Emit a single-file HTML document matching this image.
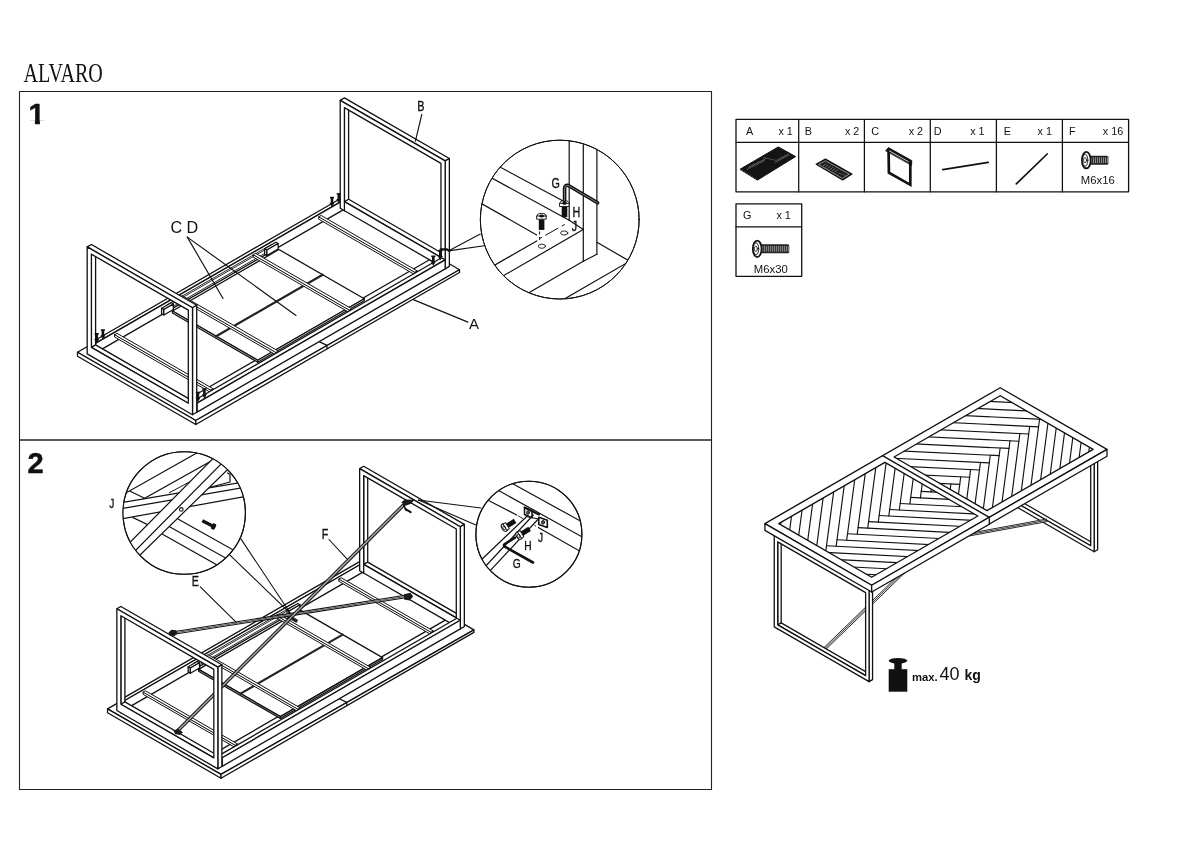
<!DOCTYPE html>
<html><head><meta charset="utf-8"><title>ALVARO</title>
<style>html,body{margin:0;padding:0;background:#fff}svg{display:block;will-change:transform}</style></head>
<body><svg width="1200" height="848" viewBox="0 0 1200 848" stroke-linejoin="round" stroke-linecap="round">
<g transform="translate(23.5,82) scale(0.745,1)"><text x="0" y="0" font-family="'Liberation Serif',serif" font-size="27" fill="#111">ALVARO</text></g>
<rect x="19.5" y="91.5" width="692" height="348.5" fill="none" stroke="#222" stroke-width="1.1"/>
<rect x="19.5" y="440" width="692" height="349.5" fill="none" stroke="#222" stroke-width="1.1"/>
<text x="28.4" y="123.9" font-family="'Liberation Sans',sans-serif" font-size="29" font-weight="bold" text-anchor="start" fill="#111" stroke="#111" stroke-width="0.5">1</text>
<rect x="28" y="120.6" width="6.9" height="5" fill="#fff"/><rect x="39.9" y="120.6" width="6" height="5" fill="#fff"/>
<polygon points="195.8,420.5 459.5,269.75 340.77,200.2 77.5,352.2" fill="#fff" stroke="#111" stroke-width="1.3" />
<polygon points="195.8,420.5 77.5,352.2 77.5,356.2 195.8,424.5" fill="#fff" stroke="#111" stroke-width="1.3" />
<polygon points="195.8,420.5 459.5,269.75 459.5,272.45 195.8,424.5" fill="#fff" stroke="#111" stroke-width="1.3" />
<polyline points="319.12,341.6 326.48,345.05 327.26,348.6" fill="none" stroke="#111" stroke-width="1.3" />
<polygon points="95.04,343.68 343.15,200.43 340.21,198.73 92.09,341.98" fill="#fff" stroke="#111" stroke-width="1.3" />
<polygon points="95.04,353.18 343.15,209.93 343.15,200.43 95.04,343.68" fill="#fff" stroke="#111" stroke-width="1.3" />
<line x1="166.8" y1="304.95" x2="270.72" y2="244.95" stroke="#111" stroke-width="0.9" />
<line x1="166.8" y1="306.56" x2="270.72" y2="246.56" stroke="#111" stroke-width="0.9" />
<line x1="168.35" y1="309.05" x2="272.27" y2="249.05" stroke="#111" stroke-width="0.9" />
<polygon points="163.84,309.55 173.37,304.05 171.12,302.75 161.59,308.25" fill="#fff" stroke="#111" stroke-width="1.3" />
<polygon points="163.84,315.05 161.59,313.75 161.59,308.25 163.84,309.55" fill="#fff" stroke="#111" stroke-width="1.3" />
<polygon points="163.84,315.05 173.37,309.55 173.37,304.05 163.84,309.55" fill="#fff" stroke="#111" stroke-width="1.3" />
<polygon points="266.9,250.05 278.16,243.55 275.91,242.25 264.65,248.75" fill="#fff" stroke="#111" stroke-width="1.3" />
<polygon points="266.9,255.55 264.65,254.25 264.65,248.75 266.9,250.05" fill="#fff" stroke="#111" stroke-width="1.3" />
<polygon points="266.9,255.55 278.16,249.05 278.16,243.55 266.9,250.05" fill="#fff" stroke="#111" stroke-width="1.3" />
<polygon points="344.41,210.65 348.61,208.22 348.61,105.17 344.41,107.6" fill="#fff" stroke="#111" stroke-width="1.3" />
<polygon points="440.97,257.4 445.17,254.98 348.61,199.22 344.41,201.65" fill="#fff" stroke="#111" stroke-width="1.3" />
<polygon points="445.17,160.93 449.37,158.5 344.41,97.9 340.21,100.33" fill="#fff" stroke="#111" stroke-width="1.3" />
<polygon points="445.17,268.83 449.37,266.4 449.37,158.5 445.17,160.93" fill="#fff" stroke="#111" stroke-width="1.3" />
<path d="M445.17 268.83 L340.21 208.23 L340.21 100.33 L445.17 160.93 Z M440.97 257.4 L344.41 201.65 L344.41 107.6 L440.97 163.35 Z" fill="#fff" stroke="#111" stroke-width="1.3" fill-rule="evenodd"/>
<line x1="344.41" y1="201.65" x2="344.41" y2="210.65" stroke="#111" stroke-width="1.3" />
<line x1="181.38" y1="403.02" x2="429.5" y2="259.77" stroke="#111" stroke-width="1.3" />
<polygon points="257.72,360.25 364.24,298.75 278.94,249.5 172.42,311" fill="#fff" stroke="#111" stroke-width="1.3" />
<polygon points="257.72,362.25 172.42,313 172.42,311 257.72,360.25" fill="#fff" stroke="#111" stroke-width="1.3" />
<polygon points="257.72,362.25 364.24,300.75 364.24,298.75 257.72,360.25" fill="#fff" stroke="#111" stroke-width="1.3" />
<line x1="216.15" y1="336.25" x2="322.67" y2="274.75" stroke="#222" stroke-width="2.2" />
<polygon points="210.78,390.25 213.21,388.85 116.99,333.3 114.57,334.7" fill="#fff" stroke="#111" stroke-width="1" />
<polygon points="210.78,392.55 114.57,337 114.57,334.7 210.78,390.25" fill="#fff" stroke="#111" stroke-width="1" />
<polygon points="210.78,392.55 213.21,391.15 213.21,388.85 210.78,390.25" fill="#fff" stroke="#111" stroke-width="1" />
<polygon points="275.99,352.6 278.42,351.2 182.2,295.65 179.78,297.05" fill="#fff" stroke="#111" stroke-width="1" />
<polygon points="275.99,354.9 179.78,299.35 179.78,297.05 275.99,352.6" fill="#fff" stroke="#111" stroke-width="1" />
<polygon points="275.99,354.9 278.42,353.5 278.42,351.2 275.99,352.6" fill="#fff" stroke="#111" stroke-width="1" />
<polygon points="349.35,310.25 351.77,308.85 255.56,253.3 253.13,254.7" fill="#fff" stroke="#111" stroke-width="1" />
<polygon points="349.35,312.55 253.13,257 253.13,254.7 349.35,310.25" fill="#fff" stroke="#111" stroke-width="1" />
<polygon points="349.35,312.55 351.77,311.15 351.77,308.85 349.35,310.25" fill="#fff" stroke="#111" stroke-width="1" />
<polygon points="414.9,272.4 417.33,271 321.11,215.45 318.69,216.85" fill="#fff" stroke="#111" stroke-width="1" />
<polygon points="414.9,274.7 318.69,219.15 318.69,216.85 414.9,272.4" fill="#fff" stroke="#111" stroke-width="1" />
<polygon points="414.9,274.7 417.33,273.3 417.33,271 414.9,272.4" fill="#fff" stroke="#111" stroke-width="1" />
<polygon points="197.06,403.07 445.17,259.83 441.53,257.73 193.42,400.98" fill="#fff" stroke="#111" stroke-width="1.3" />
<polygon points="197.06,412.07 445.17,268.83 445.17,259.83 197.06,403.07" fill="#fff" stroke="#111" stroke-width="1.3" />
<polygon points="91.4,356.32 95.6,353.9 95.6,251.75 91.4,254.17" fill="#fff" stroke="#111" stroke-width="1.3" />
<polygon points="188.31,403.27 192.51,400.85 95.6,344.9 91.4,347.32" fill="#fff" stroke="#111" stroke-width="1.3" />
<polygon points="192.51,307.7 196.71,305.27 91.4,244.48 87.2,246.9" fill="#fff" stroke="#111" stroke-width="1.3" />
<polygon points="192.51,414.7 196.71,412.27 196.71,305.27 192.51,307.7" fill="#fff" stroke="#111" stroke-width="1.3" />
<path d="M192.51 414.7 L87.2 353.9 L87.2 246.9 L192.51 307.7 Z M188.31 403.27 L91.4 347.32 L91.4 254.17 L188.31 310.12 Z" fill="#fff" stroke="#111" stroke-width="1.3" fill-rule="evenodd"/>
<path d="M95.4 333.5 h2.6 v5.5 h1.17 l-2.47 4.5 l-2.47 -4.5 h1.17 z" fill="#111"/>
<rect x="94.62" y="333" width="4.16" height="1.6" fill="#111"/>
<path d="M101.6 329.8 h2.6 v5.5 h1.17 l-2.47 4.5 l-2.47 -4.5 h1.17 z" fill="#111"/>
<rect x="100.82" y="329.3" width="4.16" height="1.6" fill="#111"/>
<path d="M196.6 392.2 h2.6 v5.5 h1.17 l-2.47 4.5 l-2.47 -4.5 h1.17 z" fill="#111"/>
<rect x="195.82" y="391.7" width="4.16" height="1.6" fill="#111"/>
<path d="M203.1 388.7 h2.6 v5.5 h1.17 l-2.47 4.5 l-2.47 -4.5 h1.17 z" fill="#111"/>
<rect x="202.32" y="388.2" width="4.16" height="1.6" fill="#111"/>
<path d="M330.7 197.3 h2.6 v5.5 h1.17 l-2.47 4.5 l-2.47 -4.5 h1.17 z" fill="#111"/>
<rect x="329.92" y="196.8" width="4.16" height="1.6" fill="#111"/>
<path d="M337.5 193.6 h2.6 v5.5 h1.17 l-2.47 4.5 l-2.47 -4.5 h1.17 z" fill="#111"/>
<rect x="336.72" y="193.1" width="4.16" height="1.6" fill="#111"/>
<path d="M432 256 h2.6 v5.5 h1.17 l-2.47 4.5 l-2.47 -4.5 h1.17 z" fill="#111"/>
<rect x="431.22" y="255.5" width="4.16" height="1.6" fill="#111"/>
<path d="M439 250.5 h2.6 v5.5 h1.17 l-2.47 4.5 l-2.47 -4.5 h1.17 z" fill="#111"/>
<rect x="438.22" y="250" width="4.16" height="1.6" fill="#111"/>
<text transform="translate(417.3,111.2) scale(0.77,1)" font-family="'Liberation Sans',sans-serif" font-size="14" font-weight="normal" text-anchor="start" fill="#111"  stroke="#111" stroke-width="0.35">B</text>
<line x1="421.8" y1="114.3" x2="415.4" y2="141.2" stroke="#111" stroke-width="1.15" />
<text x="469" y="328.5" font-family="'Liberation Sans',sans-serif" font-size="15" font-weight="normal" text-anchor="start" fill="#111" >A</text>
<line x1="413.3" y1="299.6" x2="467.9" y2="322.1" stroke="#111" stroke-width="1.15" />
<text x="170.4" y="233.3" font-family="'Liberation Sans',sans-serif" font-size="16.2" font-weight="normal" text-anchor="start" fill="#111" >C D</text>
<line x1="187.3" y1="237.1" x2="223" y2="298.5" stroke="#111" stroke-width="1.15" />
<line x1="187.3" y1="237.1" x2="296" y2="315.5" stroke="#111" stroke-width="1.15" />
<clipPath id="c1"><circle cx="559.75" cy="219.6" r="79.4"/></clipPath>
<line x1="480.3" y1="234" x2="450.2" y2="250" stroke="#111" stroke-width="1.1" />
<line x1="484.2" y1="245.7" x2="450.2" y2="250.6" stroke="#111" stroke-width="1.1" />
<circle cx="559.75" cy="219.6" r="79.4" fill="#fff" stroke="#111" stroke-width="1" />
<g clip-path="url(#c1)">
<line x1="490" y1="161.7" x2="569.2" y2="204.2" stroke="#111" stroke-width="1.2" />
<line x1="480" y1="171.6" x2="569.2" y2="220.2" stroke="#111" stroke-width="1.2" />
<line x1="569.2" y1="220.2" x2="583.3" y2="229.4" stroke="#111" stroke-width="1.2" />
<line x1="470" y1="197" x2="536.7" y2="235" stroke="#111" stroke-width="1.2" />
<line x1="466.7" y1="281.31" x2="536.7" y2="240.9" stroke="#111" stroke-width="1.2" />
<line x1="473.3" y1="293.11" x2="583.3" y2="229.6" stroke="#111" stroke-width="1.2" />
<line x1="483.3" y1="319.04" x2="583.3" y2="261.3" stroke="#111" stroke-width="1.2" />
<line x1="524.4" y1="322.04" x2="654.4" y2="246.98" stroke="#111" stroke-width="1.2" />
<line x1="596.9" y1="242.3" x2="656.9" y2="276.94" stroke="#111" stroke-width="1.2" />
<line x1="569.2" y1="130" x2="569.2" y2="220.2" stroke="#111" stroke-width="1.2" />
<line x1="583.3" y1="130" x2="583.3" y2="261.3" stroke="#111" stroke-width="1.2" />
<line x1="596.9" y1="130" x2="596.9" y2="254.3" stroke="#111" stroke-width="1.2" />
<line x1="583.3" y1="261.3" x2="596.9" y2="254.3" stroke="#111" stroke-width="1.2" />
<line x1="539.5" y1="238.6" x2="568" y2="222.6" stroke="#111" stroke-width="1" stroke-dasharray="3 3.5 15 4 3.5 50" stroke-linecap="butt"/>
<line x1="539.6" y1="231.5" x2="539.6" y2="241" stroke="#111" stroke-width="1" stroke-dasharray="3 2.5" stroke-linecap="butt"/>
<ellipse cx="541.9" cy="246.2" rx="3.6" ry="2.1" fill="#fff" stroke="#111" stroke-width="0.9" />
<ellipse cx="564.2" cy="233" rx="3.6" ry="2.1" fill="#fff" stroke="#111" stroke-width="0.9" />
<ellipse cx="541.6" cy="216" rx="4.6" ry="2.6" fill="#fff" stroke="#111" stroke-width="1" />
<rect x="537" y="216" width="9.2" height="3.2" fill="#fff" stroke="#111" stroke-width="0.9"/>
<ellipse cx="541.6" cy="216" rx="2.2" ry="1.2" fill="#111" stroke="#111" stroke-width="0.5" />
<rect x="538.8" y="219.4" width="5.6" height="10.5" fill="#111"/>
<ellipse cx="564.5" cy="203.3" rx="4.6" ry="2.6" fill="#fff" stroke="#111" stroke-width="1" />
<rect x="559.9" y="203.3" width="9.2" height="3.2" fill="#fff" stroke="#111" stroke-width="0.9"/>
<ellipse cx="564.5" cy="203.3" rx="2.2" ry="1.2" fill="#111" stroke="#111" stroke-width="0.5" />
<rect x="561.7" y="206.7" width="5.6" height="10.5" fill="#111"/>
<path d="M564.6 200.5 V188.5 Q564.6 185 568 185.3 L597.6 202.8" fill="none" stroke="#111" stroke-width="3.6" stroke-linecap="round"/>
<path d="M564.6 200.5 V188.5 Q564.6 185 568 185.3 L597.6 202.8" fill="none" stroke="#888" stroke-width="0.9" stroke-linecap="round"/>
<text transform="translate(551.5,188.4) scale(0.77,1)" font-family="'Liberation Sans',sans-serif" font-size="14" font-weight="normal" text-anchor="start" fill="#111"  stroke="#111" stroke-width="0.35">G</text>
<text transform="translate(572.4,217) scale(0.77,1)" font-family="'Liberation Sans',sans-serif" font-size="14" font-weight="normal" text-anchor="start" fill="#111"  stroke="#111" stroke-width="0.35">H</text>
<text transform="translate(571.7,231.3) scale(0.77,1)" font-family="'Liberation Sans',sans-serif" font-size="14" font-weight="normal" text-anchor="start" fill="#111"  stroke="#111" stroke-width="0.35">J</text>
</g>
<circle cx="559.75" cy="219.6" r="79.4" fill="none" stroke="#111" stroke-width="1" />
<path d="M440.6 257 V249.3 H446.5 L449.5 251" fill="none" stroke="#111" stroke-width="2.2"/>
<text x="27.6" y="472.7" font-family="'Liberation Sans',sans-serif" font-size="29" font-weight="bold" text-anchor="start" fill="#111" stroke="#111" stroke-width="0.5">2</text>
<polygon points="221,774.4 473.89,629.83 360.03,563.13 107.55,708.9" fill="#fff" stroke="#111" stroke-width="1.3" />
<polygon points="221,774.4 107.55,708.9 107.55,712.74 221,778.24" fill="#fff" stroke="#111" stroke-width="1.3" />
<polygon points="221,774.4 473.89,629.83 473.89,632.42 221,778.24" fill="#fff" stroke="#111" stroke-width="1.3" />
<polyline points="339.27,698.73 346.33,702.04 347.07,705.45" fill="none" stroke="#111" stroke-width="1.3" />
<polygon points="124.37,700.72 362.48,563.25 359.66,561.62 121.55,699.09" fill="#fff" stroke="#111" stroke-width="1.3" />
<polygon points="124.37,709.84 362.48,572.36 362.48,563.25 124.37,700.72" fill="#fff" stroke="#111" stroke-width="1.3" />
<line x1="193.19" y1="663.59" x2="292.85" y2="606.05" stroke="#111" stroke-width="0.9" />
<line x1="193.19" y1="665.13" x2="292.85" y2="607.59" stroke="#111" stroke-width="0.9" />
<line x1="194.67" y1="667.52" x2="294.33" y2="609.98" stroke="#111" stroke-width="0.9" />
<polygon points="190.35,668 199.49,662.72 197.33,661.48 188.19,666.75" fill="#fff" stroke="#111" stroke-width="1.3" />
<polygon points="190.35,673.27 188.19,672.03 188.19,666.75 190.35,668" fill="#fff" stroke="#111" stroke-width="1.3" />
<polygon points="190.35,673.27 199.49,668 199.49,662.72 190.35,668" fill="#fff" stroke="#111" stroke-width="1.3" />
<polygon points="289.19,610.94 299.98,604.7 297.82,603.46 287.03,609.69" fill="#fff" stroke="#111" stroke-width="1.3" />
<polygon points="289.19,616.21 287.03,614.97 287.03,609.69 289.19,610.94" fill="#fff" stroke="#111" stroke-width="1.3" />
<polygon points="289.19,616.21 299.98,609.98 299.98,604.7 289.19,610.94" fill="#fff" stroke="#111" stroke-width="1.3" />
<polygon points="363.68,573.06 367.71,570.73 367.71,473.25 363.68,475.58" fill="#fff" stroke="#111" stroke-width="1.3" />
<polygon points="456.29,617.89 460.31,615.57 367.71,562.1 363.68,564.43" fill="#fff" stroke="#111" stroke-width="1.3" />
<polygon points="460.31,526.71 464.34,524.39 363.68,466.27 359.66,468.6" fill="#fff" stroke="#111" stroke-width="1.3" />
<polygon points="460.31,628.85 464.34,626.52 464.34,524.39 460.31,526.71" fill="#fff" stroke="#111" stroke-width="1.3" />
<path d="M460.31 628.85 L359.66 570.73 L359.66 468.6 L460.31 526.71 Z M456.29 617.89 L363.68 564.43 L363.68 475.58 L456.29 529.04 Z" fill="#fff" stroke="#111" stroke-width="1.3" fill-rule="evenodd"/>
<line x1="363.68" y1="564.43" x2="363.68" y2="573.06" stroke="#111" stroke-width="1.3" />
<line x1="207.17" y1="757.64" x2="445.28" y2="620.17" stroke="#111" stroke-width="1.3" />
<polygon points="280.38,716.62 382.54,657.64 300.73,610.41 198.58,669.39" fill="#fff" stroke="#111" stroke-width="1.3" />
<polygon points="280.38,718.54 198.58,671.31 198.58,669.39 280.38,716.62" fill="#fff" stroke="#111" stroke-width="1.3" />
<polygon points="280.38,718.54 382.54,659.56 382.54,657.64 280.38,716.62" fill="#fff" stroke="#111" stroke-width="1.3" />
<line x1="240.52" y1="693.6" x2="342.67" y2="634.63" stroke="#222" stroke-width="2.2" />
<polygon points="235.37,745.39 237.69,744.05 145.42,690.78 143.1,692.12" fill="#fff" stroke="#111" stroke-width="1" />
<polygon points="235.37,747.6 143.1,694.32 143.1,692.12 235.37,745.39" fill="#fff" stroke="#111" stroke-width="1" />
<polygon points="235.37,747.6 237.69,746.25 237.69,744.05 235.37,745.39" fill="#fff" stroke="#111" stroke-width="1" />
<polygon points="297.91,709.28 300.23,707.94 207.96,654.67 205.64,656.01" fill="#fff" stroke="#111" stroke-width="1" />
<polygon points="297.91,711.49 205.64,658.22 205.64,656.01 297.91,709.28" fill="#fff" stroke="#111" stroke-width="1" />
<polygon points="297.91,711.49 300.23,710.15 300.23,707.94 297.91,709.28" fill="#fff" stroke="#111" stroke-width="1" />
<polygon points="368.25,668.67 370.58,667.33 278.31,614.06 275.98,615.4" fill="#fff" stroke="#111" stroke-width="1" />
<polygon points="368.25,670.88 275.98,617.6 275.98,615.4 368.25,668.67" fill="#fff" stroke="#111" stroke-width="1" />
<polygon points="368.25,670.88 370.58,669.53 370.58,667.33 368.25,668.67" fill="#fff" stroke="#111" stroke-width="1" />
<polygon points="431.12,632.37 433.45,631.03 341.18,577.76 338.85,579.1" fill="#fff" stroke="#111" stroke-width="1" />
<polygon points="431.12,634.58 338.85,581.31 338.85,579.1 431.12,632.37" fill="#fff" stroke="#111" stroke-width="1" />
<polygon points="431.12,634.58 433.45,633.24 433.45,631.03 431.12,632.37" fill="#fff" stroke="#111" stroke-width="1" />
<polygon points="222.2,757.69 460.31,620.22 456.83,618.2 218.72,755.68" fill="#fff" stroke="#111" stroke-width="1.3" />
<polygon points="222.2,766.32 460.31,628.85 460.31,620.22 222.2,757.69" fill="#fff" stroke="#111" stroke-width="1.3" />
<polygon points="170.69,634.73 407.29,597.53 406.91,595.07 170.31,632.27" fill="#fff" stroke="#111" stroke-width="1.05" />
<line x1="170.5" y1="633.5" x2="407.1" y2="596.3" stroke="#111" stroke-width="0.73" />
<polygon points="178.08,732.18 404.68,505.68 402.92,503.92 176.32,730.42" fill="#fff" stroke="#111" stroke-width="1.05" />
<line x1="177.2" y1="731.3" x2="403.8" y2="504.8" stroke="#111" stroke-width="0.73" />
<path d="M401.3 502.3 L404.8 499.5 L414.5 499.8 L411 503.8 L405.5 505.8 Z" fill="#1a1a1a"/>
<path d="M405.5 509 L410.6 512.2" stroke="#111" stroke-width="2" fill="none"/>
<path d="M403.6 505 L406.3 510.5" stroke="#111" stroke-width="1.6" fill="none"/>
<path d="M403.8 594.2 L410.5 592.8 L413.2 596.5 L409.5 600.5 L404 599.5 Z" fill="#1a1a1a"/>
<rect x="293.3" y="616.2" width="7" height="3.5" fill="#222" transform="rotate(30 292.3 614.2)"/>
<polygon points="120.88,712.86 124.91,710.53 124.91,613.43 120.88,615.76" fill="#fff" stroke="#111" stroke-width="1.3" />
<polygon points="213.82,757.88 217.84,755.56 124.91,701.9 120.88,704.23" fill="#fff" stroke="#111" stroke-width="1.3" />
<polygon points="217.84,667.09 221.87,664.76 120.88,606.46 116.85,608.78" fill="#fff" stroke="#111" stroke-width="1.3" />
<polygon points="217.84,768.84 221.87,766.51 221.87,664.76 217.84,667.09" fill="#fff" stroke="#111" stroke-width="1.3" />
<path d="M217.84 768.84 L116.85 710.53 L116.85 608.78 L217.84 667.09 Z M213.82 757.88 L120.88 704.23 L120.88 615.76 L213.82 669.41 Z" fill="#fff" stroke="#111" stroke-width="1.3" fill-rule="evenodd"/>
<path d="M168.5 632.5 L171.5 629.8 L176.3 630.3 L177 634.2 L173.5 636.5 L169.5 635.5 Z" fill="#1a1a1a"/>
<path d="M173.5 730.5 L178 728.8 L183 732.2 L180 735 L175 734 Z" fill="#1a1a1a"/>
<text transform="translate(191.8,586.3) scale(0.77,1)" font-family="'Liberation Sans',sans-serif" font-size="14" font-weight="normal" text-anchor="start" fill="#111"  stroke="#111" stroke-width="0.35">E</text>
<line x1="200.3" y1="586.8" x2="236.3" y2="622.3" stroke="#111" stroke-width="1.1" />
<text transform="translate(321.8,539) scale(0.77,1)" font-family="'Liberation Sans',sans-serif" font-size="14" font-weight="normal" text-anchor="start" fill="#111"  stroke="#111" stroke-width="0.35">F</text>
<line x1="329" y1="539.5" x2="347.4" y2="559.3" stroke="#111" stroke-width="1.1" />
<text transform="translate(109.3,507.9) scale(0.77,1)" font-family="'Liberation Sans',sans-serif" font-size="13" font-weight="normal" text-anchor="start" fill="#111"  stroke="#111" stroke-width="0.35">J</text>
<line x1="240.9" y1="538.9" x2="290.3" y2="613.3" stroke="#111" stroke-width="1.1" />
<line x1="229.7" y1="554.8" x2="290.3" y2="613.3" stroke="#111" stroke-width="1.1" />
<clipPath id="c2a"><circle cx="184.2" cy="513" r="61.2"/></clipPath>
<circle cx="184.2" cy="513" r="61.2" fill="#fff" stroke="#111" stroke-width="1.1" />
<g clip-path="url(#c2a)">
<line x1="106.02" y1="504.26" x2="214.18" y2="443.14" stroke="#111" stroke-width="1.2" />
<line x1="124.56" y1="509.52" x2="231.44" y2="449.68" stroke="#111" stroke-width="1.2" />
<line x1="130.2" y1="491.2" x2="144.6" y2="498.3" stroke="#111" stroke-width="1.2" />
<line x1="169.2" y1="492.8" x2="193.1" y2="480" stroke="#111" stroke-width="1" />
<line x1="178" y1="519" x2="259.15" y2="564.45" stroke="#111" stroke-width="1.2" />
<line x1="170" y1="527" x2="251.3" y2="572.3" stroke="#111" stroke-width="1.2" />
<line x1="162.1" y1="534.1" x2="240.85" y2="578.35" stroke="#111" stroke-width="1.2" />
<line x1="132.6" y1="517.4" x2="154.1" y2="527.8" stroke="#111" stroke-width="1.2" />
<polygon points="101.3,506.12 259.5,479.38 265.32,492.94 99.98,522.76" fill="#fff" stroke="#111" stroke-width="1.2" />
<line x1="99.86" y1="512.42" x2="262.54" y2="484.28" stroke="#111" stroke-width="1.2" />
<polygon points="107.92,564.62 235.28,435.98 252.25,445.45 115.45,579.05" fill="#fff" stroke="#111" stroke-width="1.2" />
<line x1="112.56" y1="573.58" x2="245.04" y2="439.82" stroke="#111" stroke-width="1.2" />
<circle cx="181.3" cy="509.4" r="1.8" fill="#fff" stroke="#111" stroke-width="1.1" />
<g transform="translate(209,524.2) rotate(27)"><rect x="-7.5" y="-1.6" width="11" height="3.2" fill="#111"/><rect x="3" y="-3" width="4.2" height="6" rx="1.5" fill="#111"/></g>
<polyline points="227.5,473 230,474.5 230,482 211,487" fill="none" stroke="#111" stroke-width="1.2" />
</g>
<circle cx="184.2" cy="513" r="61.2" fill="none" stroke="#111" stroke-width="1.1" />
<line x1="418.3" y1="500" x2="480.8" y2="508" stroke="#111" stroke-width="1.1" />
<line x1="418.3" y1="500" x2="475.8" y2="525" stroke="#111" stroke-width="1.1" />
<clipPath id="c2b"><circle cx="528.9" cy="534.2" r="53"/></clipPath>
<circle cx="528.9" cy="534.2" r="53" fill="#fff" stroke="#111" stroke-width="1.1" />
<g clip-path="url(#c2b)">
<line x1="495.5" y1="474.26" x2="599.5" y2="531.54" stroke="#111" stroke-width="1.2" />
<line x1="476.53" y1="478.2" x2="605.97" y2="550.2" stroke="#111" stroke-width="1.2" />
<line x1="475.45" y1="493.7" x2="516.7" y2="515" stroke="#111" stroke-width="1.2" />
<line x1="538.3" y1="527.5" x2="591.47" y2="557.79" stroke="#111" stroke-width="1.2" />
<line x1="518.5" y1="516" x2="536.5" y2="526.5" stroke="#111" stroke-width="0.9" stroke-dasharray="5 2.5 1.2 2.5"/>
<polygon points="470.28,570.3 526.7,516.5 538.3,519 476.55,585.3" fill="#fff" stroke="#111" stroke-width="1.2" />
<line x1="472.72" y1="580" x2="533.3" y2="515" stroke="#111" stroke-width="1.2" />
<path d="M524.5 507.5 l7.5 3.2 v7 l-7.5 -3.2z" fill="#fff" stroke="#111" stroke-width="1.5"/>
<path d="M524.5 507.5 L539 514.5" stroke="#111" stroke-width="2" fill="none"/>
<ellipse cx="528" cy="512.6" rx="1.5" ry="1.8" fill="#555" stroke="#111" stroke-width="0.8" />
<path d="M538.8 517.3 l8.5 3 v7.2 l-8.5 -3z" fill="#fff" stroke="#111" stroke-width="1.6"/>
<ellipse cx="543" cy="522.3" rx="1.6" ry="1.9" fill="#555" stroke="#111" stroke-width="0.8" />
<g transform="translate(504.5,527.5) rotate(-32)"><ellipse cx="0" cy="0" rx="2.6" ry="4.2" fill="#fff" stroke="#111" stroke-width="1.1"/><rect x="0.5" y="-3.6" width="3" height="7.2" fill="#fff" stroke="#111" stroke-width="0.9"/><ellipse cx="-0.3" cy="0" rx="1.2" ry="2" fill="none" stroke="#111" stroke-width="0.7"/><rect x="3.5" y="-2.4" width="9" height="4.8" fill="#111"/></g>
<g transform="translate(519,535.5) rotate(-32)"><ellipse cx="0" cy="0" rx="2.6" ry="4.2" fill="#fff" stroke="#111" stroke-width="1.1"/><rect x="0.5" y="-3.6" width="3" height="7.2" fill="#fff" stroke="#111" stroke-width="0.9"/><ellipse cx="-0.3" cy="0" rx="1.2" ry="2" fill="none" stroke="#111" stroke-width="0.7"/><rect x="3.5" y="-2.4" width="9" height="4.8" fill="#111"/></g>
<path d="M515 537.7 L504.8 544 Q503 545.3 504.8 546.6 L533 562.5" fill="none" stroke="#111" stroke-width="2.6" stroke-linecap="round"/>
<text transform="translate(538.1,542) scale(0.77,1)" font-family="'Liberation Sans',sans-serif" font-size="13.3" font-weight="normal" text-anchor="start" fill="#111"  stroke="#111" stroke-width="0.35">J</text>
<text transform="translate(524.2,549.8) scale(0.77,1)" font-family="'Liberation Sans',sans-serif" font-size="13.3" font-weight="normal" text-anchor="start" fill="#111"  stroke="#111" stroke-width="0.35">H</text>
<text transform="translate(512.8,568.4) scale(0.77,1)" font-family="'Liberation Sans',sans-serif" font-size="13.3" font-weight="normal" text-anchor="start" fill="#111"  stroke="#111" stroke-width="0.35">G</text>
</g>
<circle cx="528.9" cy="534.2" r="53" fill="none" stroke="#111" stroke-width="1.1" />
<rect x="736" y="119.3" width="392.6" height="72.5" fill="#fff" stroke="#111" stroke-width="1.3"/>
<line x1="736" y1="142.3" x2="1128.6" y2="142.3" stroke="#111" stroke-width="1.25" />
<line x1="798.7" y1="119.3" x2="798.7" y2="191.8" stroke="#111" stroke-width="1.25" />
<line x1="864.4" y1="119.3" x2="864.4" y2="191.8" stroke="#111" stroke-width="1.25" />
<line x1="930.3" y1="119.3" x2="930.3" y2="191.8" stroke="#111" stroke-width="1.25" />
<line x1="996.4" y1="119.3" x2="996.4" y2="191.8" stroke="#111" stroke-width="1.25" />
<line x1="1062.4" y1="119.3" x2="1062.4" y2="191.8" stroke="#111" stroke-width="1.25" />
<text x="746" y="135.1" font-family="'Liberation Sans',sans-serif" font-size="10.8" font-weight="normal" text-anchor="start" fill="#111" >A</text>
<text x="792.8" y="135.1" font-family="'Liberation Sans',sans-serif" font-size="10.8" font-weight="normal" text-anchor="end" fill="#111" >x 1</text>
<text x="804.8" y="135.1" font-family="'Liberation Sans',sans-serif" font-size="10.8" font-weight="normal" text-anchor="start" fill="#111" >B</text>
<text x="859.3" y="135.1" font-family="'Liberation Sans',sans-serif" font-size="10.8" font-weight="normal" text-anchor="end" fill="#111" >x 2</text>
<text x="871.2" y="135.1" font-family="'Liberation Sans',sans-serif" font-size="10.8" font-weight="normal" text-anchor="start" fill="#111" >C</text>
<text x="923.1" y="135.1" font-family="'Liberation Sans',sans-serif" font-size="10.8" font-weight="normal" text-anchor="end" fill="#111" >x 2</text>
<text x="933.8" y="135.1" font-family="'Liberation Sans',sans-serif" font-size="10.8" font-weight="normal" text-anchor="start" fill="#111" >D</text>
<text x="984.6" y="135.1" font-family="'Liberation Sans',sans-serif" font-size="10.8" font-weight="normal" text-anchor="end" fill="#111" >x 1</text>
<text x="1003.8" y="135.1" font-family="'Liberation Sans',sans-serif" font-size="10.8" font-weight="normal" text-anchor="start" fill="#111" >E</text>
<text x="1052" y="135.1" font-family="'Liberation Sans',sans-serif" font-size="10.8" font-weight="normal" text-anchor="end" fill="#111" >x 1</text>
<text x="1069.1" y="135.1" font-family="'Liberation Sans',sans-serif" font-size="10.8" font-weight="normal" text-anchor="start" fill="#111" >F</text>
<text x="1123.2" y="135.1" font-family="'Liberation Sans',sans-serif" font-size="10.8" font-weight="normal" text-anchor="end" fill="#111" >x 16</text>
<polygon points="740.3,169.1 778.3,146.9 795.6,156.6 757.7,179.9" fill="#141414" stroke="#111" stroke-width="1" />
<clipPath id="cpA"><polygon points="742.5,169.1 778.3,148.5 793,156.6 757.7,178"/></clipPath>
<g clip-path="url(#cpA)">
<line x1="747.5" y1="169.5" x2="750.1" y2="165.9" stroke="#8a8a8a" stroke-width="0.75" />
<line x1="750.05" y1="168.25" x2="752.65" y2="164.65" stroke="#8a8a8a" stroke-width="0.75" />
<line x1="752.6" y1="167" x2="755.2" y2="163.4" stroke="#8a8a8a" stroke-width="0.75" />
<line x1="755.15" y1="165.75" x2="757.75" y2="162.15" stroke="#8a8a8a" stroke-width="0.75" />
<line x1="757.7" y1="164.5" x2="760.3" y2="160.9" stroke="#8a8a8a" stroke-width="0.75" />
<line x1="760.25" y1="163.25" x2="762.85" y2="159.65" stroke="#8a8a8a" stroke-width="0.75" />
<line x1="762.8" y1="162" x2="765.4" y2="158.4" stroke="#8a8a8a" stroke-width="0.75" />
<line x1="775.5" y1="162.8" x2="778.1" y2="159" stroke="#777" stroke-width="0.75" />
<line x1="777.8" y1="161.55" x2="780.4" y2="157.75" stroke="#777" stroke-width="0.75" />
<line x1="780.1" y1="160.3" x2="782.7" y2="156.5" stroke="#777" stroke-width="0.75" />
<line x1="782.4" y1="159.05" x2="785" y2="155.25" stroke="#777" stroke-width="0.75" />
<line x1="784.7" y1="157.8" x2="787.3" y2="154" stroke="#777" stroke-width="0.75" />
<line x1="787" y1="156.55" x2="789.6" y2="152.75" stroke="#777" stroke-width="0.75" />
<line x1="789.3" y1="155.3" x2="791.9" y2="151.5" stroke="#777" stroke-width="0.75" />
<line x1="763.5" y1="157.5" x2="776" y2="160.5" stroke="#666" stroke-width="0.7" />
</g>
<polygon points="816.2,164.2 825.4,159.1 851.9,174 842.7,179.9" fill="#1c1c1c" stroke="#111" stroke-width="1.3" />
<polygon points="818.8,164.3 825.4,160.8 849.2,174.1 842.8,178.2" fill="none" stroke="#ddd" stroke-width="0.6" />
<line x1="823.2" y1="165.9" x2="825.8" y2="163.7" stroke="#aaa" stroke-width="0.65" />
<line x1="825.5" y1="167.15" x2="828.1" y2="164.95" stroke="#aaa" stroke-width="0.65" />
<line x1="827.8" y1="168.4" x2="830.4" y2="166.2" stroke="#aaa" stroke-width="0.65" />
<line x1="830.1" y1="169.65" x2="832.7" y2="167.45" stroke="#aaa" stroke-width="0.65" />
<line x1="832.4" y1="170.9" x2="835" y2="168.7" stroke="#aaa" stroke-width="0.65" />
<line x1="834.7" y1="172.15" x2="837.3" y2="169.95" stroke="#aaa" stroke-width="0.65" />
<line x1="838" y1="173" x2="846" y2="175.5" stroke="#777" stroke-width="0.6" />
<path d="M888.6 151.5 L888.9 172.6 L910.3 184.8 L910.3 162.5" fill="none" stroke="#111" stroke-width="2.7" stroke-linejoin="miter"/>
<path d="M885.8 150.6 L888.4 147.5 L911.8 160.6 L911.6 165 Z" fill="#111" stroke="#111" stroke-width="0.8"/>
<line x1="889.5" y1="151" x2="908.3" y2="161.6" stroke="#fff" stroke-width="0.8" />
<line x1="942.8" y1="169.7" x2="988.2" y2="162.3" stroke="#111" stroke-width="1.7" />
<line x1="1016.3" y1="183.8" x2="1047.2" y2="154" stroke="#111" stroke-width="1.7" />
<rect x="1089.4" y="155.7" width="19" height="9" rx="1.5" fill="#222"/>
<line x1="1091.4" y1="157.7" x2="1091.4" y2="162.7" stroke="#ccc" stroke-width="0.7" />
<line x1="1093.4" y1="157.7" x2="1093.4" y2="162.7" stroke="#ccc" stroke-width="0.7" />
<line x1="1095.4" y1="157.7" x2="1095.4" y2="162.7" stroke="#ccc" stroke-width="0.7" />
<line x1="1097.4" y1="157.7" x2="1097.4" y2="162.7" stroke="#ccc" stroke-width="0.7" />
<line x1="1099.4" y1="157.7" x2="1099.4" y2="162.7" stroke="#ccc" stroke-width="0.7" />
<line x1="1101.4" y1="157.7" x2="1101.4" y2="162.7" stroke="#ccc" stroke-width="0.7" />
<line x1="1103.4" y1="157.7" x2="1103.4" y2="162.7" stroke="#ccc" stroke-width="0.7" />
<line x1="1105.4" y1="157.7" x2="1105.4" y2="162.7" stroke="#ccc" stroke-width="0.7" />
<line x1="1107.4" y1="157.7" x2="1107.4" y2="162.7" stroke="#ccc" stroke-width="0.7" />
<ellipse cx="1086.3" cy="160.2" rx="4.4" ry="8.25" fill="#fff" stroke="#111" stroke-width="1.8" />
<ellipse cx="1085.2" cy="160.2" rx="2.6" ry="6.05" fill="#fff" stroke="#111" stroke-width="0.9" />
<ellipse cx="1085" cy="160.2" rx="1.5" ry="2.6" fill="#fff" stroke="#111" stroke-width="0.8" />
<text x="1097.8" y="184" font-family="'Liberation Sans',sans-serif" font-size="11.3" font-weight="normal" text-anchor="middle" fill="#111" >M6x16</text>
<rect x="736" y="203.8" width="65.7" height="72.5" fill="#fff" stroke="#111" stroke-width="1.3"/>
<line x1="736" y1="226.9" x2="801.7" y2="226.9" stroke="#111" stroke-width="1.25" />
<text x="743" y="219.2" font-family="'Liberation Sans',sans-serif" font-size="10.8" font-weight="normal" text-anchor="start" fill="#111" >G</text>
<text x="790.8" y="219.2" font-family="'Liberation Sans',sans-serif" font-size="10.8" font-weight="normal" text-anchor="end" fill="#111" >x 1</text>
<rect x="760.3" y="244.3" width="29" height="9" rx="1.5" fill="#222"/>
<line x1="762.3" y1="246.3" x2="762.3" y2="251.3" stroke="#ccc" stroke-width="0.7" />
<line x1="764.3" y1="246.3" x2="764.3" y2="251.3" stroke="#ccc" stroke-width="0.7" />
<line x1="766.3" y1="246.3" x2="766.3" y2="251.3" stroke="#ccc" stroke-width="0.7" />
<line x1="768.3" y1="246.3" x2="768.3" y2="251.3" stroke="#ccc" stroke-width="0.7" />
<line x1="770.3" y1="246.3" x2="770.3" y2="251.3" stroke="#ccc" stroke-width="0.7" />
<line x1="772.3" y1="246.3" x2="772.3" y2="251.3" stroke="#ccc" stroke-width="0.7" />
<line x1="774.3" y1="246.3" x2="774.3" y2="251.3" stroke="#ccc" stroke-width="0.7" />
<line x1="776.3" y1="246.3" x2="776.3" y2="251.3" stroke="#ccc" stroke-width="0.7" />
<line x1="778.3" y1="246.3" x2="778.3" y2="251.3" stroke="#ccc" stroke-width="0.7" />
<line x1="780.3" y1="246.3" x2="780.3" y2="251.3" stroke="#ccc" stroke-width="0.7" />
<line x1="782.3" y1="246.3" x2="782.3" y2="251.3" stroke="#ccc" stroke-width="0.7" />
<line x1="784.3" y1="246.3" x2="784.3" y2="251.3" stroke="#ccc" stroke-width="0.7" />
<line x1="786.3" y1="246.3" x2="786.3" y2="251.3" stroke="#ccc" stroke-width="0.7" />
<line x1="788.3" y1="246.3" x2="788.3" y2="251.3" stroke="#ccc" stroke-width="0.7" />
<ellipse cx="757.2" cy="248.8" rx="4.4" ry="8.25" fill="#fff" stroke="#111" stroke-width="1.8" />
<ellipse cx="756.1" cy="248.8" rx="2.6" ry="6.05" fill="#fff" stroke="#111" stroke-width="0.9" />
<ellipse cx="755.9" cy="248.8" rx="1.5" ry="2.6" fill="#fff" stroke="#111" stroke-width="0.8" />
<text x="770.8" y="273.2" font-family="'Liberation Sans',sans-serif" font-size="11.3" font-weight="normal" text-anchor="middle" fill="#111" >M6x30</text>
<polygon points="1002.8,498.95 1006.26,496.95 1006.26,401.95 1002.8,403.95" fill="#fff" stroke="#111" stroke-width="1.3" />
<polygon points="1002.8,494.95 1006.26,492.95 1094.16,543.7 1090.7,545.7" fill="#fff" stroke="#111" stroke-width="1.3" />
<polygon points="1094.16,551.7 1097.63,549.7 1097.63,454.7 1094.16,456.7" fill="#fff" stroke="#111" stroke-width="1.3" />
<path d="M999.33 496.95 L1094.16 551.7 L1094.16 456.7 L999.33 401.95 Z M1002.8 494.95 L1090.7 545.7 L1090.7 462.7 L1002.8 411.95 Z" fill="#fff" stroke="#111" stroke-width="1.3" fill-rule="evenodd"/>
<polygon points="826.04,649.21 1047.65,434.26 1045.84,432.39 824.23,647.34" fill="#fff" stroke="#111" stroke-width="0.9" />
<line x1="825.13" y1="648.27" x2="1046.75" y2="433.33" stroke="#111" stroke-width="0.8" />
<polygon points="825.37,562.55 1046.98,521.6 1046.51,519.05 824.9,560" fill="#fff" stroke="#111" stroke-width="0.9" />
<line x1="825.13" y1="561.27" x2="1046.75" y2="520.33" stroke="#111" stroke-width="0.8" />
<polygon points="777.72,628.9 781.18,626.9 781.18,531.9 777.72,533.9" fill="#fff" stroke="#111" stroke-width="1.3" />
<polygon points="777.72,624.9 781.18,622.9 869.08,673.65 865.62,675.65" fill="#fff" stroke="#111" stroke-width="1.3" />
<polygon points="869.08,681.65 872.55,679.65 872.55,584.65 869.08,586.65" fill="#fff" stroke="#111" stroke-width="1.3" />
<path d="M774.25 626.9 L869.08 681.65 L869.08 586.65 L774.25 531.9 Z M777.72 624.9 L865.62 675.65 L865.62 592.65 L777.72 541.9 Z" fill="#fff" stroke="#111" stroke-width="1.3" fill-rule="evenodd"/>
<polygon points="872.55,589.65 1094.16,461.7 1094.16,456.7 872.55,584.65" fill="#fff" stroke="#111" stroke-width="1.3" />
<polygon points="764.9,523.6 1000.2,387.75 1106.98,449.4 871.68,585.25" fill="#fff" stroke="#111" stroke-width="1.3" />
<polygon points="764.9,523.6 871.68,585.25 871.68,592.05 764.9,530.4" fill="#fff" stroke="#111" stroke-width="1.3" />
<polygon points="871.68,585.25 1106.98,449.4 1106.98,456.2 871.68,592.05" fill="#fff" stroke="#111" stroke-width="1.3" />
<line x1="989.33" y1="517.33" x2="989.33" y2="524.12" stroke="#111" stroke-width="1.3" />
<clipPath id="fh0"><polygon points="778.76,523.6 884.89,462.33 977.81,515.98 871.68,577.25"/></clipPath>
<g clip-path="url(#fh0)">
<line x1="730.84" y1="606.8" x2="749.46" y2="466.8" stroke="#111" stroke-width="1.15" />
<line x1="721.18" y1="606.3" x2="990.84" y2="620.32" stroke="#111" stroke-width="1.15" />
<line x1="741.37" y1="600.75" x2="759.99" y2="460.75" stroke="#111" stroke-width="1.15" />
<line x1="731.71" y1="600.25" x2="1001.37" y2="614.27" stroke="#111" stroke-width="1.15" />
<line x1="751.9" y1="594.7" x2="770.52" y2="454.7" stroke="#111" stroke-width="1.15" />
<line x1="742.24" y1="594.2" x2="1011.9" y2="608.22" stroke="#111" stroke-width="1.15" />
<line x1="762.43" y1="588.65" x2="781.05" y2="448.65" stroke="#111" stroke-width="1.15" />
<line x1="752.77" y1="588.15" x2="1022.43" y2="602.17" stroke="#111" stroke-width="1.15" />
<line x1="772.96" y1="582.6" x2="791.58" y2="442.6" stroke="#111" stroke-width="1.15" />
<line x1="763.3" y1="582.1" x2="1032.96" y2="596.12" stroke="#111" stroke-width="1.15" />
<line x1="783.49" y1="576.55" x2="802.11" y2="436.55" stroke="#111" stroke-width="1.15" />
<line x1="773.83" y1="576.05" x2="1043.49" y2="590.07" stroke="#111" stroke-width="1.15" />
<line x1="794.02" y1="570.5" x2="812.64" y2="430.5" stroke="#111" stroke-width="1.15" />
<line x1="784.36" y1="570" x2="1054.02" y2="584.02" stroke="#111" stroke-width="1.15" />
<line x1="804.55" y1="564.45" x2="823.17" y2="424.45" stroke="#111" stroke-width="1.15" />
<line x1="794.89" y1="563.95" x2="1064.55" y2="577.97" stroke="#111" stroke-width="1.15" />
<line x1="815.08" y1="558.4" x2="833.7" y2="418.4" stroke="#111" stroke-width="1.15" />
<line x1="805.42" y1="557.9" x2="1075.08" y2="571.92" stroke="#111" stroke-width="1.15" />
<line x1="825.61" y1="552.35" x2="844.23" y2="412.35" stroke="#111" stroke-width="1.15" />
<line x1="815.95" y1="551.85" x2="1085.61" y2="565.87" stroke="#111" stroke-width="1.15" />
<line x1="836.14" y1="546.3" x2="854.76" y2="406.3" stroke="#111" stroke-width="1.15" />
<line x1="826.48" y1="545.8" x2="1096.14" y2="559.82" stroke="#111" stroke-width="1.15" />
<line x1="846.67" y1="540.25" x2="865.29" y2="400.25" stroke="#111" stroke-width="1.15" />
<line x1="837.01" y1="539.75" x2="1106.67" y2="553.77" stroke="#111" stroke-width="1.15" />
<line x1="857.2" y1="534.2" x2="875.82" y2="394.2" stroke="#111" stroke-width="1.15" />
<line x1="847.54" y1="533.7" x2="1117.2" y2="547.72" stroke="#111" stroke-width="1.15" />
<line x1="867.73" y1="528.15" x2="886.35" y2="388.15" stroke="#111" stroke-width="1.15" />
<line x1="858.07" y1="527.65" x2="1127.73" y2="541.67" stroke="#111" stroke-width="1.15" />
<line x1="878.26" y1="522.1" x2="896.88" y2="382.1" stroke="#111" stroke-width="1.15" />
<line x1="868.6" y1="521.6" x2="1138.26" y2="535.62" stroke="#111" stroke-width="1.15" />
<line x1="888.79" y1="516.05" x2="907.41" y2="376.05" stroke="#111" stroke-width="1.15" />
<line x1="879.13" y1="515.55" x2="1148.79" y2="529.57" stroke="#111" stroke-width="1.15" />
<line x1="899.32" y1="510" x2="917.94" y2="370" stroke="#111" stroke-width="1.15" />
<line x1="889.66" y1="509.5" x2="1159.32" y2="523.52" stroke="#111" stroke-width="1.15" />
<line x1="909.85" y1="503.95" x2="928.47" y2="363.95" stroke="#111" stroke-width="1.15" />
<line x1="900.19" y1="503.45" x2="1169.85" y2="517.47" stroke="#111" stroke-width="1.15" />
<line x1="920.38" y1="497.9" x2="939" y2="357.9" stroke="#111" stroke-width="1.15" />
<line x1="910.72" y1="497.4" x2="1180.38" y2="511.42" stroke="#111" stroke-width="1.15" />
<line x1="930.91" y1="491.85" x2="949.53" y2="351.85" stroke="#111" stroke-width="1.15" />
<line x1="921.25" y1="491.35" x2="1190.91" y2="505.37" stroke="#111" stroke-width="1.15" />
<line x1="941.44" y1="485.8" x2="960.06" y2="345.8" stroke="#111" stroke-width="1.15" />
<line x1="931.78" y1="485.3" x2="1201.44" y2="499.32" stroke="#111" stroke-width="1.15" />
<line x1="951.97" y1="479.75" x2="970.59" y2="339.75" stroke="#111" stroke-width="1.15" />
<line x1="942.31" y1="479.25" x2="1211.97" y2="493.27" stroke="#111" stroke-width="1.15" />
<line x1="962.5" y1="473.7" x2="981.12" y2="333.7" stroke="#111" stroke-width="1.15" />
<line x1="952.84" y1="473.2" x2="1222.5" y2="487.22" stroke="#111" stroke-width="1.15" />
<line x1="973.03" y1="467.65" x2="991.65" y2="327.65" stroke="#111" stroke-width="1.15" />
<line x1="963.37" y1="467.15" x2="1233.03" y2="481.17" stroke="#111" stroke-width="1.15" />
<line x1="983.56" y1="461.6" x2="1002.18" y2="321.6" stroke="#111" stroke-width="1.15" />
<line x1="973.9" y1="461.1" x2="1243.56" y2="475.12" stroke="#111" stroke-width="1.15" />
<line x1="994.09" y1="455.55" x2="1012.71" y2="315.55" stroke="#111" stroke-width="1.15" />
<line x1="984.43" y1="455.05" x2="1254.09" y2="469.07" stroke="#111" stroke-width="1.15" />
<line x1="1004.62" y1="449.5" x2="1023.24" y2="309.5" stroke="#111" stroke-width="1.15" />
<line x1="994.96" y1="449" x2="1264.62" y2="463.02" stroke="#111" stroke-width="1.15" />
<line x1="1015.15" y1="443.45" x2="1033.77" y2="303.45" stroke="#111" stroke-width="1.15" />
<line x1="1005.49" y1="442.95" x2="1275.15" y2="456.97" stroke="#111" stroke-width="1.15" />
</g>
<polygon points="778.76,523.6 884.89,462.33 977.81,515.98 871.68,577.25" fill="none" stroke="#111" stroke-width="1.3" />
<clipPath id="fh1"><polygon points="894.07,457.03 1000.2,395.75 1093.12,449.4 986.99,510.68"/></clipPath>
<g clip-path="url(#fh1)">
<line x1="1147.9" y1="340" x2="1129.7" y2="480" stroke="#111" stroke-width="1.15" />
<line x1="1156.76" y1="340.43" x2="887.9" y2="327.52" stroke="#111" stroke-width="1.15" />
<line x1="1138.05" y1="347.2" x2="1119.85" y2="487.2" stroke="#111" stroke-width="1.15" />
<line x1="1146.91" y1="347.63" x2="878.05" y2="334.72" stroke="#111" stroke-width="1.15" />
<line x1="1128.2" y1="354.4" x2="1110" y2="494.4" stroke="#111" stroke-width="1.15" />
<line x1="1137.06" y1="354.83" x2="868.2" y2="341.92" stroke="#111" stroke-width="1.15" />
<line x1="1118.35" y1="361.6" x2="1100.15" y2="501.6" stroke="#111" stroke-width="1.15" />
<line x1="1127.21" y1="362.03" x2="858.35" y2="349.12" stroke="#111" stroke-width="1.15" />
<line x1="1108.5" y1="368.8" x2="1090.3" y2="508.8" stroke="#111" stroke-width="1.15" />
<line x1="1117.36" y1="369.23" x2="848.5" y2="356.32" stroke="#111" stroke-width="1.15" />
<line x1="1098.65" y1="376" x2="1080.45" y2="516" stroke="#111" stroke-width="1.15" />
<line x1="1107.51" y1="376.43" x2="838.65" y2="363.52" stroke="#111" stroke-width="1.15" />
<line x1="1088.8" y1="383.2" x2="1070.6" y2="523.2" stroke="#111" stroke-width="1.15" />
<line x1="1097.66" y1="383.63" x2="828.8" y2="370.72" stroke="#111" stroke-width="1.15" />
<line x1="1078.95" y1="390.4" x2="1060.75" y2="530.4" stroke="#111" stroke-width="1.15" />
<line x1="1087.81" y1="390.83" x2="818.95" y2="377.92" stroke="#111" stroke-width="1.15" />
<line x1="1069.1" y1="397.6" x2="1050.9" y2="537.6" stroke="#111" stroke-width="1.15" />
<line x1="1077.96" y1="398.03" x2="809.1" y2="385.12" stroke="#111" stroke-width="1.15" />
<line x1="1059.25" y1="404.8" x2="1041.05" y2="544.8" stroke="#111" stroke-width="1.15" />
<line x1="1068.11" y1="405.23" x2="799.25" y2="392.32" stroke="#111" stroke-width="1.15" />
<line x1="1049.4" y1="412" x2="1031.2" y2="552" stroke="#111" stroke-width="1.15" />
<line x1="1058.26" y1="412.43" x2="789.4" y2="399.52" stroke="#111" stroke-width="1.15" />
<line x1="1039.55" y1="419.2" x2="1021.35" y2="559.2" stroke="#111" stroke-width="1.15" />
<line x1="1048.41" y1="419.63" x2="779.55" y2="406.72" stroke="#111" stroke-width="1.15" />
<line x1="1029.7" y1="426.4" x2="1011.5" y2="566.4" stroke="#111" stroke-width="1.15" />
<line x1="1038.56" y1="426.83" x2="769.7" y2="413.92" stroke="#111" stroke-width="1.15" />
<line x1="1019.85" y1="433.6" x2="1001.65" y2="573.6" stroke="#111" stroke-width="1.15" />
<line x1="1028.71" y1="434.03" x2="759.85" y2="421.12" stroke="#111" stroke-width="1.15" />
<line x1="1010" y1="440.8" x2="991.8" y2="580.8" stroke="#111" stroke-width="1.15" />
<line x1="1018.86" y1="441.23" x2="750" y2="428.32" stroke="#111" stroke-width="1.15" />
<line x1="1000.15" y1="448" x2="981.95" y2="588" stroke="#111" stroke-width="1.15" />
<line x1="1009.01" y1="448.43" x2="740.15" y2="435.52" stroke="#111" stroke-width="1.15" />
<line x1="990.3" y1="455.2" x2="972.1" y2="595.2" stroke="#111" stroke-width="1.15" />
<line x1="999.16" y1="455.63" x2="730.3" y2="442.72" stroke="#111" stroke-width="1.15" />
<line x1="980.45" y1="462.4" x2="962.25" y2="602.4" stroke="#111" stroke-width="1.15" />
<line x1="989.31" y1="462.83" x2="720.45" y2="449.92" stroke="#111" stroke-width="1.15" />
<line x1="970.6" y1="469.6" x2="952.4" y2="609.6" stroke="#111" stroke-width="1.15" />
<line x1="979.46" y1="470.03" x2="710.6" y2="457.12" stroke="#111" stroke-width="1.15" />
<line x1="960.75" y1="476.8" x2="942.55" y2="616.8" stroke="#111" stroke-width="1.15" />
<line x1="969.61" y1="477.23" x2="700.75" y2="464.32" stroke="#111" stroke-width="1.15" />
<line x1="950.9" y1="484" x2="932.7" y2="624" stroke="#111" stroke-width="1.15" />
<line x1="959.76" y1="484.43" x2="690.9" y2="471.52" stroke="#111" stroke-width="1.15" />
<line x1="941.05" y1="491.2" x2="922.85" y2="631.2" stroke="#111" stroke-width="1.15" />
<line x1="949.91" y1="491.63" x2="681.05" y2="478.72" stroke="#111" stroke-width="1.15" />
<line x1="931.2" y1="498.4" x2="913" y2="638.4" stroke="#111" stroke-width="1.15" />
<line x1="940.06" y1="498.83" x2="671.2" y2="485.92" stroke="#111" stroke-width="1.15" />
<line x1="921.35" y1="505.6" x2="903.15" y2="645.6" stroke="#111" stroke-width="1.15" />
<line x1="930.21" y1="506.03" x2="661.35" y2="493.12" stroke="#111" stroke-width="1.15" />
<line x1="911.5" y1="512.8" x2="893.3" y2="652.8" stroke="#111" stroke-width="1.15" />
<line x1="920.36" y1="513.23" x2="651.5" y2="500.32" stroke="#111" stroke-width="1.15" />
<line x1="901.65" y1="520" x2="883.45" y2="660" stroke="#111" stroke-width="1.15" />
<line x1="910.51" y1="520.43" x2="641.65" y2="507.52" stroke="#111" stroke-width="1.15" />
<line x1="891.8" y1="527.2" x2="873.6" y2="667.2" stroke="#111" stroke-width="1.15" />
<line x1="900.66" y1="527.63" x2="631.8" y2="514.72" stroke="#111" stroke-width="1.15" />
<line x1="881.95" y1="534.4" x2="863.75" y2="674.4" stroke="#111" stroke-width="1.15" />
<line x1="890.81" y1="534.83" x2="621.95" y2="521.92" stroke="#111" stroke-width="1.15" />
</g>
<polygon points="894.07,457.03 1000.2,395.75 1093.12,449.4 986.99,510.68" fill="none" stroke="#111" stroke-width="1.3" />
<line x1="882.55" y1="455.68" x2="989.33" y2="517.33" stroke="#111" stroke-width="1.3" />
<rect x="888.7" y="669.2" width="18.6" height="22.5" fill="#111"/>
<rect x="894.3" y="661" width="7.4" height="9" fill="#111"/>
<ellipse cx="898" cy="660.8" rx="9.3" ry="2.9" fill="#111" stroke="#111" stroke-width="0" />
<text x="912" y="681" font-family="'Liberation Sans',sans-serif" font-size="11.3" font-weight="bold" text-anchor="start" fill="#111" >max.</text>
<text x="939.5" y="680.1" font-family="'Liberation Sans',sans-serif" font-size="18" font-weight="normal" text-anchor="start" fill="#111" >40</text>
<text x="964.5" y="680.3" font-family="'Liberation Sans',sans-serif" font-size="14" font-weight="bold" text-anchor="start" fill="#111" >kg</text>
</svg></body></html>
